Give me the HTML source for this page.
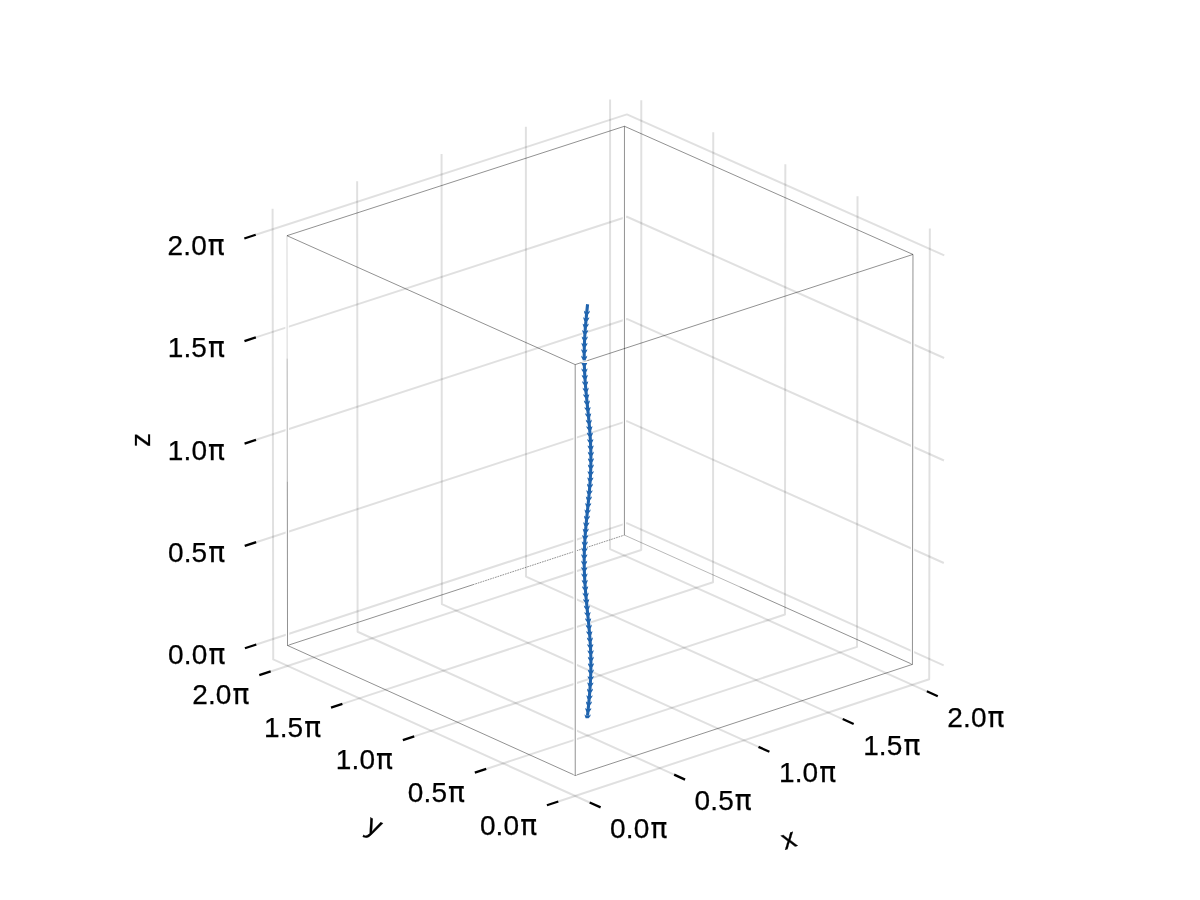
<!DOCTYPE html>
<html lang="en"><head><meta charset="utf-8"><title>3D arrows plot</title>
<style>
html,body{margin:0;padding:0;background:#fff;}
body{width:1200px;height:900px;overflow:hidden;}
svg{display:block;will-change:transform;}
</style></head><body>
<svg width="1200" height="900" viewBox="0 0 1200 900">
<rect width="1200" height="900" fill="#fff"/>
<g fill="none" stroke="#000" stroke-opacity="0.12" stroke-width="2" stroke-linejoin="round"><polyline points="589.67,802.48 273.22,659.43 272.59,208.74"/><polyline points="558.33,801.53 929.2,679.29 929.84,228.42"/><polyline points="256.3,644.51 626.86,523.15 943.68,665.32"/><polyline points="674.14,774.63 357.6,631.78 357.14,181.35"/><polyline points="486.24,768.93 857.03,646.89 857.52,196.32"/><polyline points="256.15,542.21 626.87,421.1 943.83,562.97"/><polyline points="758.49,746.83 441.87,604.17 441.57,153.99"/><polyline points="414.27,736.38 784.97,614.54 785.33,164.27"/><polyline points="256,439.81 626.88,318.96 943.98,460.53"/><polyline points="842.72,719.06 526.03,576.59 525.88,126.67"/><polyline points="342.41,703.89 713.03,582.24 713.25,132.27"/><polyline points="255.85,337.33 626.9,216.73 944.13,358"/><polyline points="926.84,691.32 610.06,549.05 610.08,99.39"/><polyline points="270.66,671.45 641.21,549.99 641.29,100.32"/><polyline points="255.7,234.75 626.91,114.41 944.28,255.38"/></g>
<g stroke="#000" stroke-opacity="0.43" stroke-width="1"><line x1="575.24" y1="775.45" x2="912.42" y2="664.38" /><line x1="912.42" y1="664.38" x2="739.62" y2="586.81" /><line x1="739.62" y1="586.81" x2="624.42" y2="535.09" stroke-opacity="0.28"/><line x1="287.53" y1="645.46" x2="472.82" y2="584.76" /><line x1="472.82" y1="584.76" x2="624.42" y2="535.09" stroke-dasharray="1.7 0.9"/><line x1="287.53" y1="645.46" x2="575.24" y2="775.45" /></g>
<g stroke="#000" stroke-opacity="0.43" stroke-width="1"><line x1="624.46" y1="127.46" x2="624.42" y2="534.49" stroke="#fff" stroke-width="3.4" stroke-opacity="1"/><line x1="624.46" y1="126.26" x2="624.42" y2="535.09" /><line x1="286.98" y1="236.89" x2="287.53" y2="644.86" stroke="#fff" stroke-width="3.4" stroke-opacity="1"/><line x1="286.98" y1="235.69" x2="287.15" y2="358.62" stroke-opacity="0.16"/><line x1="287.15" y1="358.62" x2="287.31" y2="481.55" stroke-opacity="0.3"/><line x1="287.31" y1="481.55" x2="287.53" y2="645.46" /><line x1="912.97" y1="255.65" x2="912.42" y2="663.78" stroke="#fff" stroke-width="3.4" stroke-opacity="1"/><line x1="912.97" y1="254.45" x2="912.42" y2="664.38" /></g>
<g stroke="#000" stroke-opacity="0.43" stroke-width="1"><line x1="575.19" y1="364.59" x2="912.97" y2="254.45" /><line x1="912.97" y1="254.45" x2="624.46" y2="126.26" /><line x1="624.46" y1="126.26" x2="286.98" y2="235.69" /><line x1="286.98" y1="235.69" x2="575.19" y2="364.59" /></g>
<g stroke="#000" stroke-opacity="0.43" stroke-width="1"><line x1="575.19" y1="365.79" x2="575.24" y2="774.85" stroke="#fff" stroke-width="3.4" stroke-opacity="1"/><line x1="575.19" y1="364.59" x2="575.24" y2="775.45" /></g>
<g stroke="#000" stroke-width="2.3"><line x1="589.67" y1="802.48" x2="600.61" y2="807.42" /><line x1="558.33" y1="801.53" x2="546.93" y2="805.28" /><line x1="256.3" y1="644.51" x2="244.9" y2="648.27" /><line x1="674.14" y1="774.63" x2="685.07" y2="779.58" /><line x1="486.24" y1="768.93" x2="474.84" y2="772.69" /><line x1="256.15" y1="542.21" x2="244.75" y2="545.96" /><line x1="758.49" y1="746.83" x2="769.42" y2="751.77" /><line x1="414.27" y1="736.38" x2="402.87" y2="740.14" /><line x1="256" y1="439.81" x2="244.6" y2="443.57" /><line x1="842.72" y1="719.06" x2="853.66" y2="724" /><line x1="342.41" y1="703.89" x2="331.01" y2="707.64" /><line x1="255.85" y1="337.33" x2="244.45" y2="341.08" /><line x1="926.84" y1="691.32" x2="937.77" y2="696.26" /><line x1="270.66" y1="671.45" x2="259.27" y2="675.2" /><line x1="255.7" y1="234.75" x2="244.3" y2="238.51" /></g>
<g font-family="'Liberation Sans', sans-serif" font-size="28" fill="#000" stroke="#000" stroke-width="0.25" letter-spacing="0.15"><text x="638.75" y="838.08" text-anchor="middle">0.0<tspan font-family="'DejaVu Sans', 'Liberation Sans', sans-serif" font-size="28" dx="0.9">π</tspan></text><text x="508.53" y="834.53" text-anchor="middle">0.0<tspan font-family="'DejaVu Sans', 'Liberation Sans', sans-serif" font-size="28" dx="0.9">π</tspan></text><text x="225.4" y="664.26" text-anchor="end">0.0<tspan font-family="'DejaVu Sans', 'Liberation Sans', sans-serif" font-size="28" dx="0.9">π</tspan></text><text x="723.22" y="810.23" text-anchor="middle">0.5<tspan font-family="'DejaVu Sans', 'Liberation Sans', sans-serif" font-size="28" dx="0.9">π</tspan></text><text x="436.44" y="801.93" text-anchor="middle">0.5<tspan font-family="'DejaVu Sans', 'Liberation Sans', sans-serif" font-size="28" dx="0.9">π</tspan></text><text x="225.25" y="561.96" text-anchor="end">0.5<tspan font-family="'DejaVu Sans', 'Liberation Sans', sans-serif" font-size="28" dx="0.9">π</tspan></text><text x="807.57" y="782.43" text-anchor="middle">1.0<tspan font-family="'DejaVu Sans', 'Liberation Sans', sans-serif" font-size="28" dx="0.9">π</tspan></text><text x="364.47" y="769.38" text-anchor="middle">1.0<tspan font-family="'DejaVu Sans', 'Liberation Sans', sans-serif" font-size="28" dx="0.9">π</tspan></text><text x="225.1" y="459.56" text-anchor="end">1.0<tspan font-family="'DejaVu Sans', 'Liberation Sans', sans-serif" font-size="28" dx="0.9">π</tspan></text><text x="891.8" y="754.66" text-anchor="middle">1.5<tspan font-family="'DejaVu Sans', 'Liberation Sans', sans-serif" font-size="28" dx="0.9">π</tspan></text><text x="292.61" y="736.89" text-anchor="middle">1.5<tspan font-family="'DejaVu Sans', 'Liberation Sans', sans-serif" font-size="28" dx="0.9">π</tspan></text><text x="224.95" y="357.08" text-anchor="end">1.5<tspan font-family="'DejaVu Sans', 'Liberation Sans', sans-serif" font-size="28" dx="0.9">π</tspan></text><text x="975.92" y="726.92" text-anchor="middle">2.0<tspan font-family="'DejaVu Sans', 'Liberation Sans', sans-serif" font-size="28" dx="0.9">π</tspan></text><text x="220.86" y="704.45" text-anchor="middle">2.0<tspan font-family="'DejaVu Sans', 'Liberation Sans', sans-serif" font-size="28" dx="0.9">π</tspan></text><text x="224.8" y="254.5" text-anchor="end">2.0<tspan font-family="'DejaVu Sans', 'Liberation Sans', sans-serif" font-size="28" dx="0.9">π</tspan></text><text transform="translate(789.25,840.9) rotate(-18.23)" text-anchor="middle" y="7.3">x</text><text transform="translate(372.6,829.7) rotate(24.31)" text-anchor="middle" y="4.5">y</text><text transform="translate(142.5,439.8) rotate(-90)" text-anchor="middle" y="7.3">z</text></g>
<g><polyline fill="none" stroke="#fff" stroke-width="5.0" stroke-opacity="0.85" points="587.58,304.25 587.37,306.25 587.17,308.25 586.96,310.25 586.76,312.25 586.57,314.25 586.37,316.25 586.18,318.25 586,320.25 585.82,322.25 585.65,324.25 585.48,326.25 585.32,328.25 585.18,330.25 585.04,332.25 584.91,334.25 584.78,336.25 584.67,338.25 584.57,340.25 584.49,342.25 584.41,344.25 584.34,346.25 584.29,348.25 584.25,350.25 584.22,352.25 584.2,354.25 584.2,356.25 584.21,358.25 584.23,360.25 584.26,362.25 584.31,364.25 584.37,366.25 584.44,368.25 584.52,370.25 584.61,372.25 584.72,374.25 584.83,376.25 584.96,378.25 585.09,380.25 585.23,382.25 585.39,384.25 585.55,386.25 585.72,388.25 585.89,390.25 586.07,392.25 586.26,394.25 586.45,396.25 586.64,398.25 586.84,400.25 587.04,402.25 587.25,404.25 587.45,406.25 587.66,408.25 587.86,410.25 588.07,412.25 588.27,414.25 588.47,416.25 588.66,418.25 588.85,420.25 589.04,422.25 589.22,424.25 589.39,426.25 589.56,428.25 589.72,430.25 589.87,432.25 590.02,434.25 590.15,436.25 590.27,438.25 590.39,440.25 590.49,442.25 590.58,444.25 590.67,446.25 590.74,448.25 590.79,450.25 590.84,452.25 590.87,454.25 590.89,456.25 590.9,458.25 590.9,460.25 590.88,462.25 590.85,464.25 590.81,466.25 590.75,468.25 590.69,470.25 590.61,472.25 590.52,474.25 590.42,476.25 590.31,478.25 590.19,480.25 590.06,482.25 589.92,484.25 589.77,486.25 589.61,488.25 589.44,490.25 589.27,492.25 589.09,494.25 588.91,496.25 588.72,498.25 588.52,500.25 588.33,502.25 588.13,504.25 587.92,506.25 587.72,508.25 587.51,510.25 587.31,512.25 587.11,514.25 586.9,516.25 586.7,518.25 586.51,520.25 586.31,522.25 586.13,524.25 585.94,526.25 585.77,528.25 585.6,530.25 585.43,532.25 585.28,534.25 585.13,536.25 585,538.25 584.87,540.25 584.75,542.25 584.64,544.25 584.55,546.25 584.46,548.25 584.39,550.25 584.33,552.25 584.28,554.25 584.24,556.25 584.21,558.25 584.2,560.25 584.2,562.25 584.21,564.25 584.24,566.25 584.28,568.25 584.33,570.25 584.39,572.25 584.46,574.25 584.55,576.25 584.64,578.25 584.75,580.25 584.87,582.25 585,584.25 585.13,586.25 585.28,588.25 585.43,590.25 585.6,592.25 585.77,594.25 585.94,596.25 586.13,598.25 586.31,600.25 586.51,602.25 586.7,604.25 586.9,606.25 587.11,608.25 587.31,610.25 587.51,612.25 587.72,614.25 587.92,616.25 588.13,618.25 588.33,620.25 588.52,622.25 588.72,624.25 588.91,626.25 589.09,628.25 589.27,630.25 589.44,632.25 589.61,634.25 589.77,636.25 589.92,638.25 590.06,640.25 590.19,642.25 590.31,644.25 590.42,646.25 590.52,648.25 590.61,650.25 590.69,652.25 590.75,654.25 590.81,656.25 590.85,658.25 590.88,660.25 590.9,662.25 590.9,664.25 590.89,666.25 590.87,668.25 590.84,670.25 590.79,672.25 590.74,674.25 590.67,676.25 590.58,678.25 590.49,680.25 590.39,682.25 590.27,684.25 590.15,686.25 590.02,688.25 589.87,690.25 589.72,692.25 589.56,694.25 589.39,696.25 589.22,698.25 589.04,700.25 588.85,702.25 588.66,704.25 588.47,706.25 588.27,708.25 588.07,710.25 587.86,712.25 587.66,714.25 587.51,715.7"/><polyline fill="none" stroke="#2064ae" stroke-width="3.1" points="587.58,304.25 587.37,306.25 587.17,308.25 586.96,310.25 586.76,312.25 586.57,314.25 586.37,316.25 586.18,318.25 586,320.25 585.82,322.25 585.65,324.25 585.48,326.25 585.32,328.25 585.18,330.25 585.04,332.25 584.91,334.25 584.78,336.25 584.67,338.25 584.57,340.25 584.49,342.25 584.41,344.25 584.34,346.25 584.29,348.25 584.25,350.25 584.22,352.25 584.2,354.25 584.2,356.25 584.21,358.25 584.23,360.25 584.26,362.25 584.31,364.25 584.37,366.25 584.44,368.25 584.52,370.25 584.61,372.25 584.72,374.25 584.83,376.25 584.96,378.25 585.09,380.25 585.23,382.25 585.39,384.25 585.55,386.25 585.72,388.25 585.89,390.25 586.07,392.25 586.26,394.25 586.45,396.25 586.64,398.25 586.84,400.25 587.04,402.25 587.25,404.25 587.45,406.25 587.66,408.25 587.86,410.25 588.07,412.25 588.27,414.25 588.47,416.25 588.66,418.25 588.85,420.25 589.04,422.25 589.22,424.25 589.39,426.25 589.56,428.25 589.72,430.25 589.87,432.25 590.02,434.25 590.15,436.25 590.27,438.25 590.39,440.25 590.49,442.25 590.58,444.25 590.67,446.25 590.74,448.25 590.79,450.25 590.84,452.25 590.87,454.25 590.89,456.25 590.9,458.25 590.9,460.25 590.88,462.25 590.85,464.25 590.81,466.25 590.75,468.25 590.69,470.25 590.61,472.25 590.52,474.25 590.42,476.25 590.31,478.25 590.19,480.25 590.06,482.25 589.92,484.25 589.77,486.25 589.61,488.25 589.44,490.25 589.27,492.25 589.09,494.25 588.91,496.25 588.72,498.25 588.52,500.25 588.33,502.25 588.13,504.25 587.92,506.25 587.72,508.25 587.51,510.25 587.31,512.25 587.11,514.25 586.9,516.25 586.7,518.25 586.51,520.25 586.31,522.25 586.13,524.25 585.94,526.25 585.77,528.25 585.6,530.25 585.43,532.25 585.28,534.25 585.13,536.25 585,538.25 584.87,540.25 584.75,542.25 584.64,544.25 584.55,546.25 584.46,548.25 584.39,550.25 584.33,552.25 584.28,554.25 584.24,556.25 584.21,558.25 584.2,560.25 584.2,562.25 584.21,564.25 584.24,566.25 584.28,568.25 584.33,570.25 584.39,572.25 584.46,574.25 584.55,576.25 584.64,578.25 584.75,580.25 584.87,582.25 585,584.25 585.13,586.25 585.28,588.25 585.43,590.25 585.6,592.25 585.77,594.25 585.94,596.25 586.13,598.25 586.31,600.25 586.51,602.25 586.7,604.25 586.9,606.25 587.11,608.25 587.31,610.25 587.51,612.25 587.72,614.25 587.92,616.25 588.13,618.25 588.33,620.25 588.52,622.25 588.72,624.25 588.91,626.25 589.09,628.25 589.27,630.25 589.44,632.25 589.61,634.25 589.77,636.25 589.92,638.25 590.06,640.25 590.19,642.25 590.31,644.25 590.42,646.25 590.52,648.25 590.61,650.25 590.69,652.25 590.75,654.25 590.81,656.25 590.85,658.25 590.88,660.25 590.9,662.25 590.9,664.25 590.89,666.25 590.87,668.25 590.84,670.25 590.79,672.25 590.74,674.25 590.67,676.25 590.58,678.25 590.49,680.25 590.39,682.25 590.27,684.25 590.15,686.25 590.02,688.25 589.87,690.25 589.72,692.25 589.56,694.25 589.39,696.25 589.22,698.25 589.04,700.25 588.85,702.25 588.66,704.25 588.47,706.25 588.27,708.25 588.07,710.25 587.86,712.25 587.66,714.25 587.51,715.7"/><path fill="#2064ae" d="M583.89,310.6 L584.09,312.3 L584.97,314.6 L587.97,314.6 L589.69,312.3 L589.89,310.6 L588.69,311.8 L585.09,311.8 Z M583.26,317.01 L583.46,318.71 L584.38,321.01 L587.38,321.01 L589.06,318.71 L589.26,317.01 L588.06,318.21 L584.46,318.21 Z M582.68,323.41 L582.88,325.11 L583.84,327.41 L586.84,327.41 L588.48,325.11 L588.68,323.41 L587.48,324.61 L583.88,324.61 Z M582.18,329.82 L582.38,331.52 L583.39,333.82 L586.39,333.82 L587.98,331.52 L588.18,329.82 L586.98,331.02 L583.38,331.02 Z M581.76,336.22 L581.96,337.92 L583.05,340.22 L586.05,340.22 L587.56,337.92 L587.76,336.22 L586.56,337.42 L582.96,337.42 Z M581.45,342.63 L581.65,344.33 L582.82,346.63 L585.82,346.63 L587.25,344.33 L587.45,342.63 L586.25,343.83 L582.65,343.83 Z M581.26,349.04 L581.46,350.74 L582.71,353.04 L585.71,353.04 L587.06,350.74 L587.26,349.04 L586.06,350.24 L582.46,350.24 Z M581.2,355.44 L581.4,357.14 L582.73,359.44 L585.73,359.44 L587,357.14 L587.2,355.44 L586,356.64 L582.4,356.64 Z M581.26,361.85 L581.46,363.55 L582.87,365.85 L585.87,365.85 L587.06,363.55 L587.26,361.85 L586.06,363.05 L582.46,363.05 Z M581.45,368.25 L581.65,369.95 L583.14,372.25 L586.14,372.25 L587.25,369.95 L587.45,368.25 L586.25,369.45 L582.65,369.45 Z M581.76,374.66 L581.96,376.36 L583.52,378.66 L586.52,378.66 L587.56,376.36 L587.76,374.66 L586.56,375.86 L582.96,375.86 Z M582.18,381.07 L582.38,382.77 L584,385.07 L587,385.07 L587.98,382.77 L588.18,381.07 L586.98,382.27 L583.38,382.27 Z M582.68,387.47 L582.88,389.17 L584.55,391.47 L587.55,391.47 L588.48,389.17 L588.68,387.47 L587.48,388.67 L583.88,388.67 Z M583.26,393.88 L583.46,395.58 L585.17,397.88 L588.17,397.88 L589.06,395.58 L589.26,393.88 L588.06,395.08 L584.46,395.08 Z M583.89,400.28 L584.09,401.98 L585.81,404.28 L588.81,404.28 L589.69,401.98 L589.89,400.28 L588.69,401.48 L585.09,401.48 Z M584.54,406.69 L584.74,408.39 L586.47,410.69 L589.47,410.69 L590.34,408.39 L590.54,406.69 L589.34,407.89 L585.74,407.89 Z M585.19,413.1 L585.39,414.8 L587.11,417.1 L590.11,417.1 L590.99,414.8 L591.19,413.1 L589.99,414.3 L586.39,414.3 Z M585.82,419.5 L586.02,421.2 L587.71,423.5 L590.71,423.5 L591.62,421.2 L591.82,419.5 L590.62,420.7 L587.02,420.7 Z M586.4,425.91 L586.6,427.61 L588.24,429.91 L591.24,429.91 L592.2,427.61 L592.4,425.91 L591.2,427.11 L587.6,427.11 Z M586.91,432.31 L587.11,434.01 L588.69,436.31 L591.69,436.31 L592.71,434.01 L592.91,432.31 L591.71,433.51 L588.11,433.51 Z M587.33,438.72 L587.53,440.42 L589.04,442.72 L592.04,442.72 L593.13,440.42 L593.33,438.72 L592.13,439.92 L588.53,439.92 Z M587.64,445.13 L587.84,446.83 L589.28,449.13 L592.28,449.13 L593.44,446.83 L593.64,445.13 L592.44,446.33 L588.84,446.33 Z M587.83,451.53 L588.03,453.23 L589.39,455.53 L592.39,455.53 L593.63,453.23 L593.83,451.53 L592.63,452.73 L589.03,452.73 Z M587.9,457.94 L588.1,459.64 L589.38,461.94 L592.38,461.94 L593.7,459.64 L593.9,457.94 L592.7,459.14 L589.1,459.14 Z M587.84,464.34 L588.04,466.04 L589.23,468.34 L592.23,468.34 L593.64,466.04 L593.84,464.34 L592.64,465.54 L589.04,465.54 Z M587.65,470.75 L587.85,472.45 L588.97,474.75 L591.97,474.75 L593.45,472.45 L593.65,470.75 L592.45,471.95 L588.85,471.95 Z M587.35,477.16 L587.55,478.86 L588.59,481.16 L591.59,481.16 L593.15,478.86 L593.35,477.16 L592.15,478.36 L588.55,478.36 Z M586.94,483.56 L587.14,485.26 L588.12,487.56 L591.12,487.56 L592.74,485.26 L592.94,483.56 L591.74,484.76 L588.14,484.76 Z M586.43,489.97 L586.63,491.67 L587.56,493.97 L590.56,493.97 L592.23,491.67 L592.43,489.97 L591.23,491.17 L587.63,491.17 Z M585.86,496.37 L586.06,498.07 L586.95,500.37 L589.95,500.37 L591.66,498.07 L591.86,496.37 L590.66,497.57 L587.06,497.57 Z M585.23,502.78 L585.43,504.48 L586.31,506.78 L589.31,506.78 L591.03,504.48 L591.23,502.78 L590.03,503.98 L586.43,503.98 Z M584.58,509.19 L584.78,510.89 L585.65,513.19 L588.65,513.19 L590.38,510.89 L590.58,509.19 L589.38,510.39 L585.78,510.39 Z M583.93,515.59 L584.13,517.29 L585.01,519.59 L588.01,519.59 L589.73,517.29 L589.93,515.59 L588.73,516.79 L585.13,516.79 Z M583.3,522 L583.5,523.7 L584.41,526 L587.41,526 L589.1,523.7 L589.3,522 L588.1,523.2 L584.5,523.2 Z M582.72,528.4 L582.92,530.1 L583.87,532.4 L586.87,532.4 L588.52,530.1 L588.72,528.4 L587.52,529.6 L583.92,529.6 Z M582.21,534.81 L582.41,536.51 L583.42,538.81 L586.42,538.81 L588.01,536.51 L588.21,534.81 L587.01,536.01 L583.41,536.01 Z M581.79,541.22 L581.99,542.92 L583.07,545.22 L586.07,545.22 L587.59,542.92 L587.79,541.22 L586.59,542.42 L582.99,542.42 Z M581.47,547.62 L581.67,549.32 L582.83,551.62 L585.83,551.62 L587.27,549.32 L587.47,547.62 L586.27,548.82 L582.67,548.82 Z M581.27,554.03 L581.47,555.73 L582.71,558.03 L585.71,558.03 L587.07,555.73 L587.27,554.03 L586.07,555.23 L582.47,555.23 Z M581.2,560.43 L581.4,562.13 L582.72,564.43 L585.72,564.43 L587,562.13 L587.2,560.43 L586,561.63 L582.4,561.63 Z M581.26,566.84 L581.46,568.54 L582.86,570.84 L585.86,570.84 L587.06,568.54 L587.26,566.84 L586.06,568.04 L582.46,568.04 Z M581.44,573.25 L581.64,574.95 L583.12,577.25 L586.12,577.25 L587.24,574.95 L587.44,573.25 L586.24,574.45 L582.64,574.45 Z M581.74,579.65 L581.94,581.35 L583.5,583.65 L586.5,583.65 L587.54,581.35 L587.74,579.65 L586.54,580.85 L582.94,580.85 Z M582.15,586.06 L582.35,587.76 L583.97,590.06 L586.97,590.06 L587.95,587.76 L588.15,586.06 L586.95,587.26 L583.35,587.26 Z M582.65,592.46 L582.85,594.16 L584.52,596.46 L587.52,596.46 L588.45,594.16 L588.65,592.46 L587.45,593.66 L583.85,593.66 Z M583.22,598.87 L583.42,600.57 L585.13,602.87 L588.13,602.87 L589.02,600.57 L589.22,598.87 L588.02,600.07 L584.42,600.07 Z M583.85,605.28 L584.05,606.98 L585.77,609.28 L588.77,609.28 L589.65,606.98 L589.85,605.28 L588.65,606.48 L585.05,606.48 Z M584.5,611.68 L584.7,613.38 L586.43,615.68 L589.43,615.68 L590.3,613.38 L590.5,611.68 L589.3,612.88 L585.7,612.88 Z M585.15,618.09 L585.35,619.79 L587.07,622.09 L590.07,622.09 L590.95,619.79 L591.15,618.09 L589.95,619.29 L586.35,619.29 Z M585.78,624.49 L585.98,626.19 L587.67,628.49 L590.67,628.49 L591.58,626.19 L591.78,624.49 L590.58,625.69 L586.98,625.69 Z M586.36,630.9 L586.56,632.6 L588.21,634.9 L591.21,634.9 L592.16,632.6 L592.36,630.9 L591.16,632.1 L587.56,632.1 Z M586.88,637.31 L587.08,639.01 L588.67,641.31 L591.67,641.31 L592.68,639.01 L592.88,637.31 L591.68,638.51 L588.08,638.51 Z M587.3,643.71 L587.5,645.41 L589.02,647.71 L592.02,647.71 L593.1,645.41 L593.3,643.71 L592.1,644.91 L588.5,644.91 Z M587.62,650.12 L587.82,651.82 L589.27,654.12 L592.27,654.12 L593.42,651.82 L593.62,650.12 L592.42,651.32 L588.82,651.32 Z M587.82,656.52 L588.02,658.22 L589.39,660.52 L592.39,660.52 L593.62,658.22 L593.82,656.52 L592.62,657.72 L589.02,657.72 Z M587.9,662.93 L588.1,664.63 L589.38,666.93 L592.38,666.93 L593.7,664.63 L593.9,662.93 L592.7,664.13 L589.1,664.13 Z M587.85,669.34 L588.05,671.04 L589.24,673.34 L592.24,673.34 L593.65,671.04 L593.85,669.34 L592.65,670.54 L589.05,670.54 Z M587.67,675.74 L587.87,677.44 L588.99,679.74 L591.99,679.74 L593.47,677.44 L593.67,675.74 L592.47,676.94 L588.87,676.94 Z M587.37,682.15 L587.57,683.85 L588.62,686.15 L591.62,686.15 L593.17,683.85 L593.37,682.15 L592.17,683.35 L588.57,683.35 Z M586.97,688.55 L587.17,690.25 L588.15,692.55 L591.15,692.55 L592.77,690.25 L592.97,688.55 L591.77,689.75 L588.17,689.75 Z M586.47,694.96 L586.67,696.66 L587.6,698.96 L590.6,698.96 L592.27,696.66 L592.47,694.96 L591.27,696.16 L587.67,696.16 Z M585.9,701.37 L586.1,703.07 L586.99,705.37 L589.99,705.37 L591.7,703.07 L591.9,701.37 L590.7,702.57 L587.1,702.57 Z M585.27,707.77 L585.47,709.47 L586.35,711.77 L589.35,711.77 L591.07,709.47 L591.27,707.77 L590.07,708.97 L586.47,708.97 Z M584.62,714.18 L584.82,715.88 L585.69,718.18 L588.69,718.18 L590.42,715.88 L590.62,714.18 L589.42,715.38 L585.82,715.38 Z"/><rect x="581.2" y="360.38" width="6.6" height="2.6" fill="#fff"/><line x1="580.5" y1="362.86" x2="588.5" y2="360.25" stroke="#000" stroke-opacity="0.22" stroke-width="1"/></g>
</svg>
</body></html>
